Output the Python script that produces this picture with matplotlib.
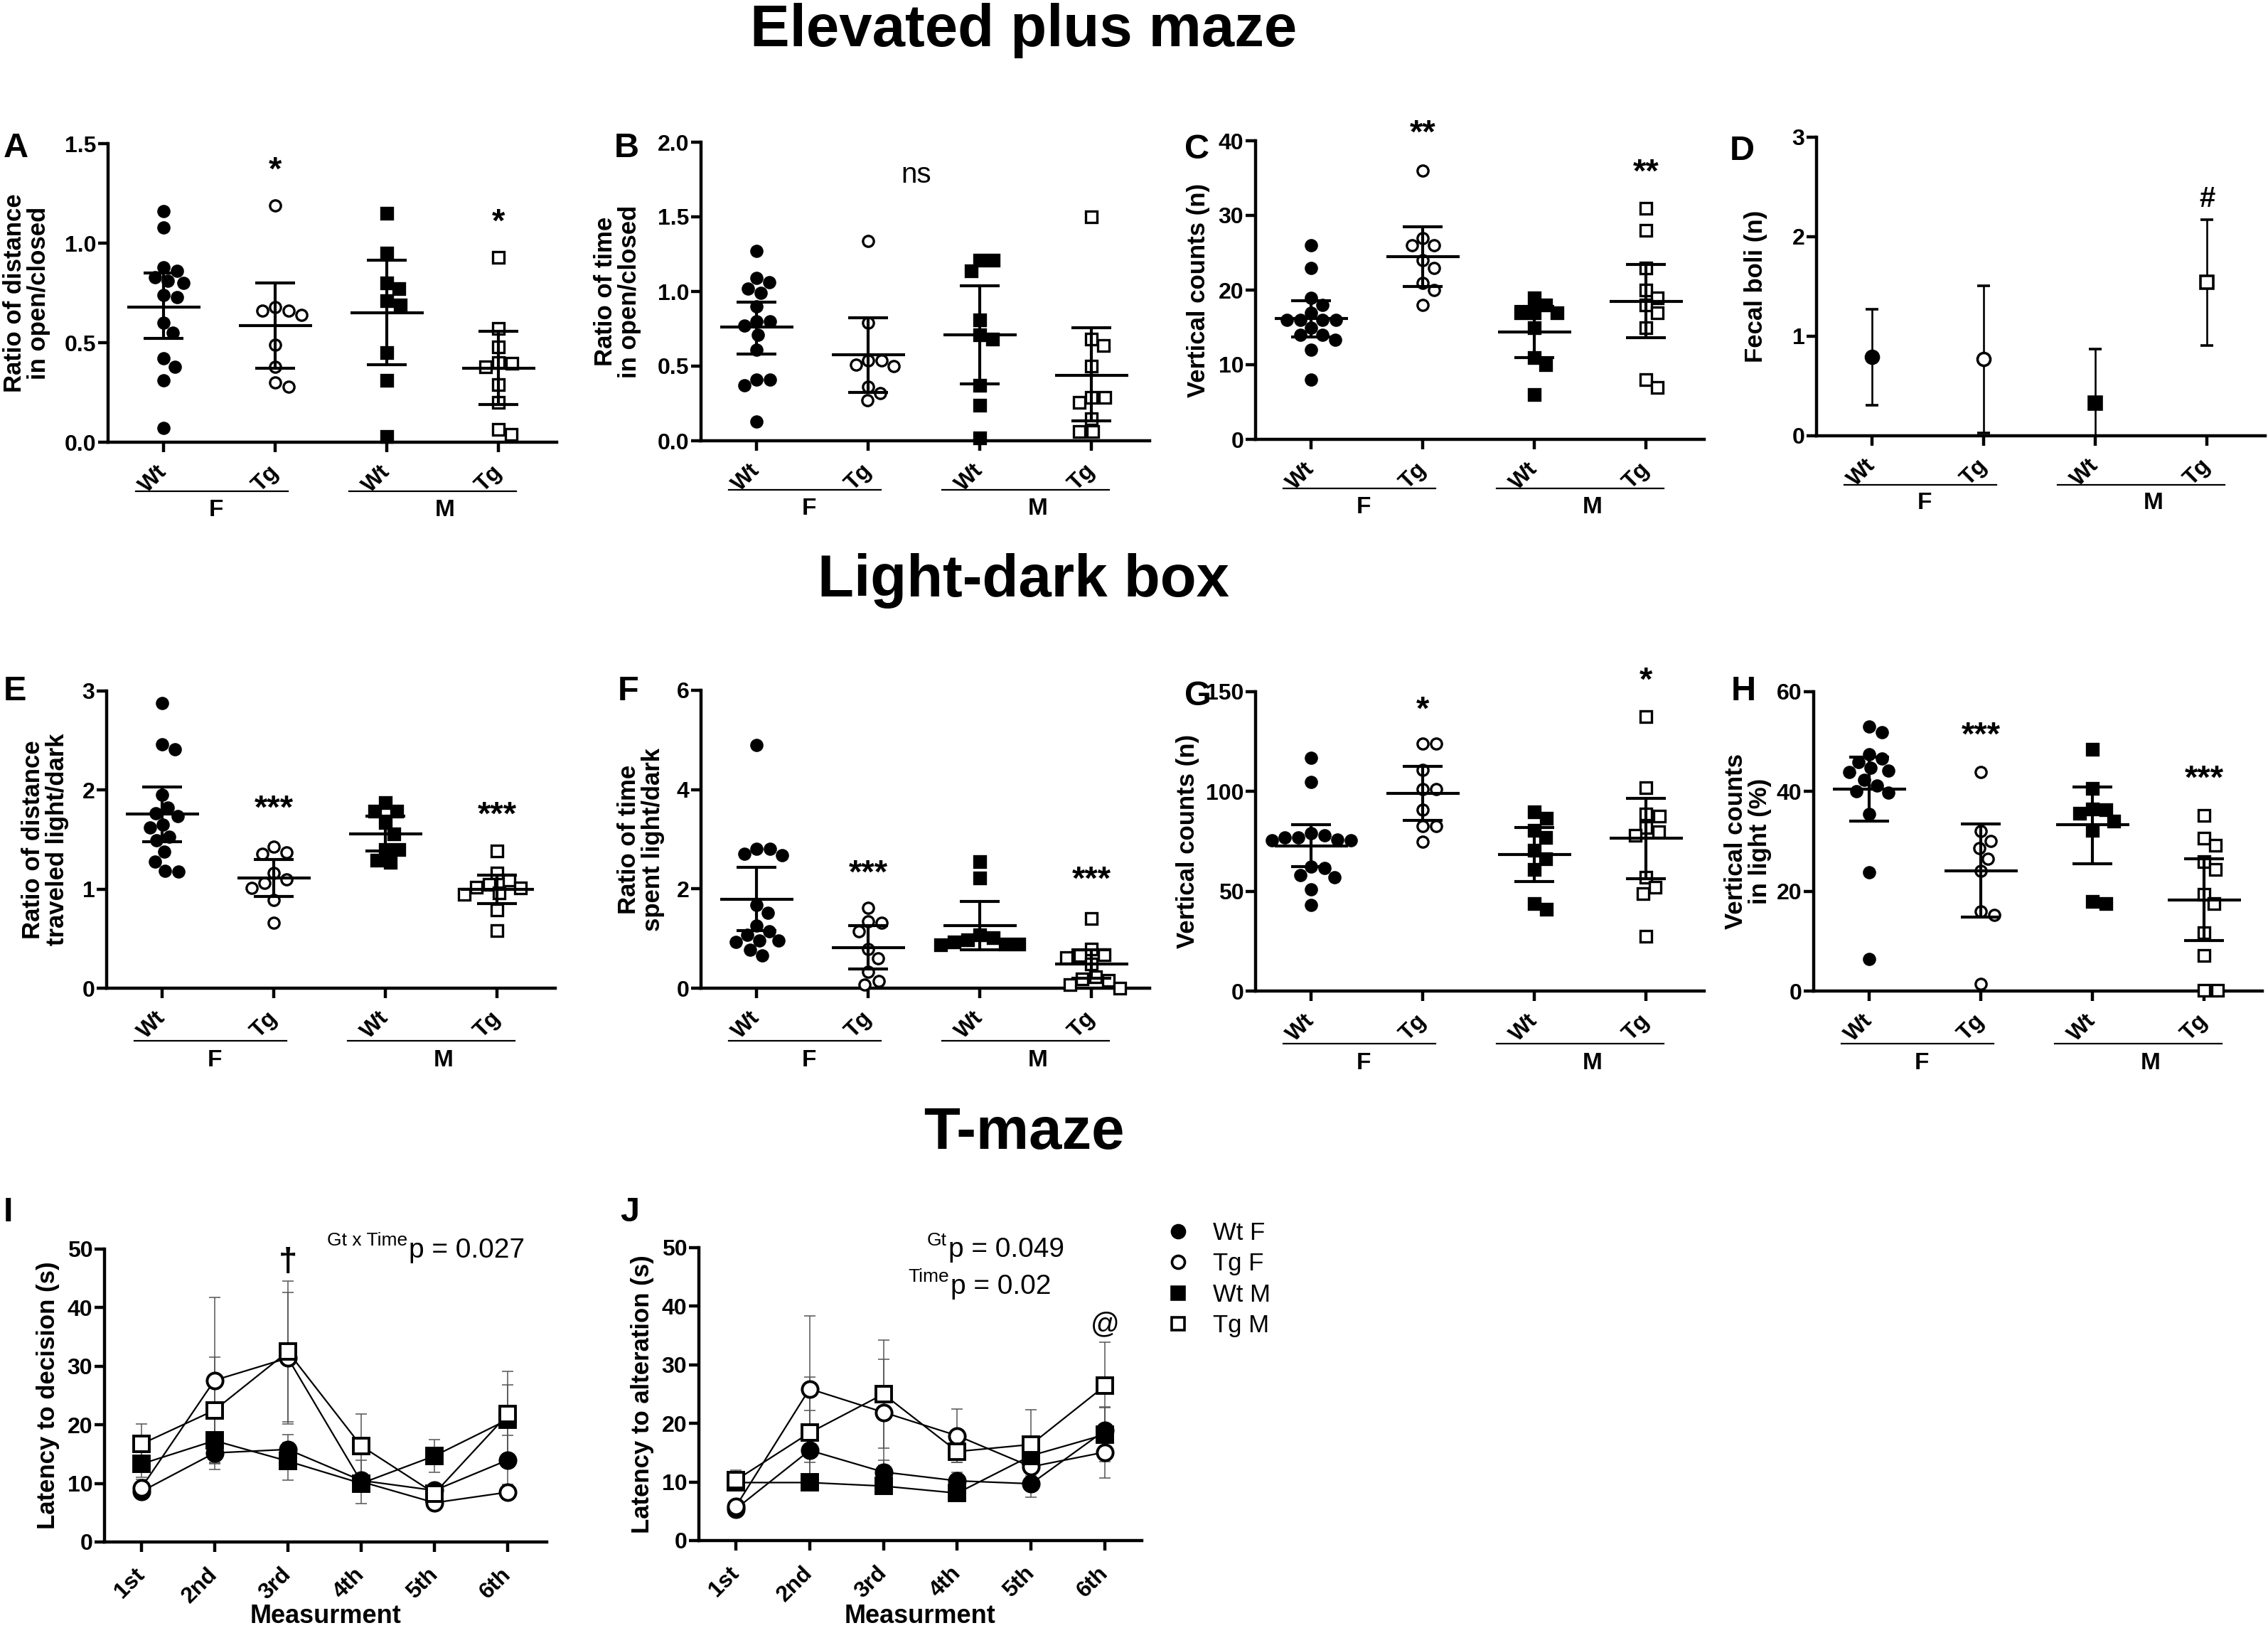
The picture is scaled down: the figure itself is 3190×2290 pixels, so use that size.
import numpy as np
import matplotlib
matplotlib.use("Agg")
import matplotlib.pyplot as plt
import matplotlib.transforms as mtransforms
from matplotlib.lines import Line2D

plt.rcParams['font.family'] = ['Liberation Sans', 'DejaVu Sans']
plt.rcParams['font.weight'] = 'bold'
plt.rcParams['axes.labelweight'] = 'bold'

# ---------------- data ----------------
groups = ['Wt', 'Tg', 'Wt', 'Tg']
times = ['1st', '2nd', '3rd', '4th', '5th', '6th']
legend_labels = ['Wt F', 'Tg F', 'Wt M', 'Tg M']

# A - ratio of distance open/closed
A_wtf = [1.16, 1.08, 0.88, 0.86, 0.83, 0.81, 0.80, 0.74, 0.73, 0.60, 0.55, 0.42, 0.38, 0.31, 0.07]
A_tgf = [1.19, 0.68, 0.66, 0.66, 0.64, 0.49, 0.38, 0.30, 0.28]
A_wtm = [1.15, 0.95, 0.80, 0.77, 0.71, 0.69, 0.45, 0.31, 0.03]
A_tgm = [0.93, 0.57, 0.48, 0.40, 0.395, 0.38, 0.29, 0.20, 0.065, 0.04]
A_mean = [0.68, 0.585, 0.65, 0.373]
A_lo = [0.52, 0.37, 0.39, 0.19]
A_hi = [0.85, 0.80, 0.915, 0.557]
A_stars = ['', '*', '', '*']
A_star_y = [0, 1.36, 0, 1.10]

# B - ratio of time open/closed
B_wtf = [1.27, 1.09, 1.06, 1.02, 0.99, 0.90, 0.80, 0.80, 0.77, 0.71, 0.61, 0.41, 0.41, 0.37, 0.13]
B_tgf = [1.34, 0.79, 0.54, 0.54, 0.51, 0.50, 0.36, 0.32, 0.27]
B_wtm = [1.21, 1.21, 1.14, 0.81, 0.71, 0.68, 0.37, 0.24, 0.02]
B_tgm = [1.50, 0.68, 0.64, 0.50, 0.29, 0.29, 0.255, 0.15, 0.06, 0.06]
B_mean = [0.76, 0.575, 0.71, 0.44]
B_lo = [0.58, 0.325, 0.38, 0.135]
B_hi = [0.93, 0.825, 1.04, 0.755]

# C - vertical counts EPM
C_wtf = [26, 23, 19, 18, 17, 16, 16, 16, 16, 15, 14, 14, 13.3, 12, 8]
C_tgf = [36, 27, 26, 26, 24, 23, 21, 20, 18]
C_wtm = [19, 18, 17, 17, 17, 15, 11, 10, 6]
C_tgm = [31, 28, 23, 20, 19, 18, 17, 15, 8, 7]
C_mean = [16.2, 24.5, 14.4, 18.5]
C_lo = [13.7, 20.5, 11.0, 13.6]
C_hi = [18.6, 28.5, 17.8, 23.4]
C_stars = ['', '**', '', '**']
C_star_y = [0, 40.9, 0, 35.6]

# D - fecal boli (mean +/- error)
D_mean = [0.79, 0.77, 0.33, 1.54]
D_err = [0.48, 0.74, 0.54, 0.63]

# E - ratio of distance light/dark
E_wtf = [2.88, 2.46, 2.41, 1.95, 1.825, 1.765, 1.735, 1.65, 1.62, 1.53, 1.49, 1.38, 1.28, 1.185, 1.18]
E_tgf = [1.43, 1.37, 1.36, 1.16, 1.10, 1.065, 1.01, 0.89, 0.66]
E_wtm = [1.87, 1.79, 1.79, 1.67, 1.56, 1.40, 1.40, 1.295, 1.27]
E_tgm = [1.386, 1.16, 1.09, 1.05, 1.02, 1.015, 0.96, 0.95, 0.79, 0.58]
E_mean = [1.757, 1.11, 1.556, 1.00]
E_lo = [1.48, 0.925, 1.386, 0.855]
E_hi = [2.03, 1.30, 1.735, 1.14]
E_stars = ['', '***', '', '***']
E_star_y = [0, 1.80, 0, 1.74]

# F - ratio of time light/dark
F_wtf = [4.90, 2.81, 2.81, 2.71, 2.68, 1.67, 1.52, 1.26, 1.15, 1.07, 0.96, 0.96, 0.93, 0.77, 0.66]
F_tgf = [1.62, 1.34, 1.315, 1.15, 0.79, 0.60, 0.33, 0.15, 0.07]
F_wtm = [2.55, 2.22, 1.07, 1.02, 0.97, 0.93, 0.89, 0.89, 0.88]
F_tgm = [1.41, 0.79, 0.68, 0.66, 0.61, 0.49, 0.23, 0.19, 0.16, 0.07, 0.0]
F_mean = [1.79, 0.81, 1.26, 0.48]
F_lo = [1.16, 0.38, 0.78, 0.20]
F_hi = [2.44, 1.26, 1.75, 0.77]
F_stars = ['', '***', '', '***']
F_star_y = [0, 2.30, 0, 2.16]

# G - vertical counts LDB
G_wtf = [116.8, 104.9, 79.0, 78.1, 76.9, 76.9, 75.8, 75.4, 75.4, 62.2, 61.7, 58.1, 57.0, 50.8, 43.0]
G_tgf = [123.9, 123.9, 110.9, 101.1, 101.1, 90.8, 82.7, 82.7, 74.9]
G_wtm = [89.9, 86.7, 80.6, 76.9, 70.4, 66.3, 60.8, 44.0, 41.0]
G_tgm = [137.7, 101.8, 88.8, 87.7, 82.0, 79.9, 78.1, 57.1, 51.9, 48.9, 27.6]
G_mean = [72.8, 99.0, 68.3, 76.5]
G_lo = [62.4, 85.4, 54.9, 56.4]
G_hi = [83.3, 112.7, 82.0, 96.7]
G_stars = ['', '*', '', '*']
G_star_y = [0, 140.4, 0, 155.0]

# H - vertical counts in light (%)
H_wtf = [53.0, 51.9, 47.5, 46.6, 45.9, 44.7, 44.2, 43.9, 42.3, 41.2, 40.1, 39.8, 35.5, 23.8, 6.4]
H_tgf = [43.9, 32.0, 30.1, 28.6, 26.5, 24.1, 15.9, 15.3, 1.4]
H_wtm = [48.5, 40.6, 36.5, 36.3, 35.7, 34.1, 32.2, 18.0, 17.6]
H_tgm = [35.2, 30.7, 29.2, 25.9, 24.4, 19.4, 17.5, 11.7, 7.1, 0.1, 0.1]
H_mean = [40.5, 24.1, 33.3, 18.3]
H_lo = [34.1, 14.8, 25.5, 10.1]
H_hi = [46.9, 33.5, 40.9, 26.5]
H_stars = ['', '***', '', '***']
H_star_y = [0, 51.0, 0, 42.3]

# I - T-maze latency to decision
I_wtf = [8.6, 15.2, 15.8, 10.5, 8.8, 14.0]
I_tgf = [9.2, 27.6, 31.4, 10.3, 6.7, 8.5]
I_wtm = [13.3, 17.3, 13.8, 10.0, 14.7, 20.9]
I_tgm = [16.7, 22.5, 32.5, 16.4, 8.3, 21.8]
I_wtf_err = [1.0, 2.8, 2.5, 1.0, 1.0, 4.2]
I_tgf_err = [1.5, 14.2, 11.2, 3.7, 1.0, 1.2]
I_wtm_err = [2.2, 3.7, 3.2, 1.2, 2.8, 5.9]
I_tgm_err = [3.5, 9.0, 12.0, 5.4, 1.0, 7.3]

# J - T-maze latency to alteration
J_wtf = [5.4, 15.4, 11.7, 10.2, 9.7, 18.8]
J_tgf = [5.8, 25.9, 21.9, 17.9, 12.6, 15.1]
J_wtm = [9.9, 9.9, 9.3, 8.1, 14.5, 18.1]
J_tgm = [10.3, 18.4, 25.0, 15.2, 16.4, 26.4]
J_wtf_err = [0.5, 6.8, 2.0, 1.5, 2.3, 4.0]
J_tgf_err = [1.0, 12.5, 9.0, 4.6, 1.5, 4.4]
J_wtm_err = [0.8, 1.2, 1.0, 0.9, 2.0, 4.6]
J_tgm_err = [1.7, 9.5, 9.2, 1.8, 5.9, 7.4]

# ---------------- figure ----------------
W, H = 3190, 2290
fig = plt.figure(figsize=(W / 100, H / 100), dpi=100)

STYLES = [('o', 'k'), ('o', 'w'), ('s', 'k'), ('s', 'w')]


def px_box(b):
    l, t, r, bt = b
    return [l / W, 1 - bt / H, (r - l) / W, (bt - t) / H]


def fxy(x, y):
    return x / W, 1 - y / H


def base_style(ax):
    ax.spines[['top', 'right']].set_visible(False)
    ax.spines[['left', 'bottom']].set_linewidth(3.2)
    ax.tick_params(axis='both', width=3.2, length=10, labelsize=23)
    ax.tick_params(axis='y', pad=2)


def swarm(ax, xc, vals, d=19.0):
    # greedy beeswarm in pixel space, returns x in data units
    vals = np.asarray(vals, dtype=float)
    pts = ax.transData.transform(np.column_stack([np.full(len(vals), xc), vals]))
    order = np.argsort(-vals, kind='stable')
    placed = []
    off = np.zeros(len(vals))
    for i in order:
        y = pts[i, 1]
        cands = [0.0]
        for px, py in placed:
            dy = abs(py - y)
            if dy < d:
                dx = np.sqrt(d * d - dy * dy)
                cands += [px + dx, px - dx]
        cands.sort(key=abs)
        for c in cands:
            if all((c - px) ** 2 + (y - py) ** 2 >= d * d - 1e-6 for px, py in placed):
                break
        placed.append((c, y))
        off[i] = c
    x0 = pts[0, 0]
    return ax.transData.inverted().transform(np.column_stack([x0 + off, pts[:, 1]]))[:, 0]


def sex_labels(ax, hpx, line_px, text_px):
    tr = mtransforms.blended_transform_factory(ax.transData, ax.transAxes)
    for (x0, x1), xc, s in zip([(-0.25, 1.11), (1.66, 3.16)], [0.47, 2.52], ['F', 'M']):
        ax.plot([x0, x1], [-line_px / hpx] * 2, transform=tr, color='k', lw=1.6, clip_on=False)
        ax.text(xc, -text_px / hpx, s, transform=tr, ha='center', va='center', fontsize=24)


def group_axes(b, yticks, ylabels, ylab, gap, row):
    ax = fig.add_axes(px_box(b))
    ax.set_xlim(-0.5, 3.52)
    ax.set_ylim(yticks[0], yticks[-1])
    base_style(ax)
    ax.set_yticks(yticks, ylabels)
    ax.set_xticks(range(4), groups, rotation=45, ha='right', va='center',
                  rotation_mode='anchor')
    ax.tick_params(axis='x', pad=17)
    ax.set_ylabel(ylab, fontsize=25, linespacing=1.05)
    ax.yaxis.set_label_coords(-gap / (b[2] - b[0]), 0.5)
    hpx = b[3] - b[1]
    if row == 1:
        sex_labels(ax, hpx, 69, 95)
    else:
        sex_labels(ax, hpx, 74, 102)
    return ax


def dot_panel(b, sets, mean, lo, hi, yticks, ylabels, ylab, gap, row, stars=None, star_y=None):
    ax = group_axes(b, yticks, ylabels, ylab, gap, row)
    for i, vals in enumerate(sets):
        m, fc = STYLES[i]
        xs = swarm(ax, i, vals)
        ax.plot(xs, vals, ls='none', marker=m, ms=11, mfc=fc, mec='k', mew=2.4,
                clip_on=False, zorder=3)
        ax.hlines(mean[i], i - 0.33, i + 0.33, color='k', lw=3.0, zorder=4)
        ax.errorbar(i, mean[i], yerr=[[mean[i] - lo[i]], [hi[i] - mean[i]]], fmt='none',
                    ecolor='k', elinewidth=3.0, capsize=20, capthick=3.0, zorder=4)
        if stars and stars[i]:
            ax.text(i, star_y[i], stars[i], ha='center', va='center', fontsize=34,
                    clip_on=False)
    return ax


# ---- row 1: elevated plus maze ----
dot_panel((152, 202, 783, 622), [A_wtf, A_tgf, A_wtm, A_tgm], A_mean, A_lo, A_hi,
          [0, 0.5, 1.0, 1.5], ['0.0', '0.5', '1.0', '1.5'],
          'Ratio of distance\nin open/closed', 81, 1, A_stars, A_star_y)
axB = dot_panel((986, 200, 1617, 620), [B_wtf, B_tgf, B_wtm, B_tgm], B_mean, B_lo, B_hi,
                [0, 0.5, 1.0, 1.5, 2.0], ['0.0', '0.5', '1.0', '1.5', '2.0'],
                'Ratio of time\nin open/closed', 84, 1)
axB.text(1.43, 1.78, 'ns', ha='center', va='center', fontsize=29, fontweight='normal')
dot_panel((1766, 198, 2397, 618), [C_wtf, C_tgf, C_wtm, C_tgm], C_mean, C_lo, C_hi,
          [0, 10, 20, 30, 40], ['0', '10', '20', '30', '40'],
          'Vertical counts (n)', 64, 1, C_stars, C_star_y)

bD = (2555, 193, 3186, 613)
axD = group_axes(bD, [0, 1, 2, 3], ['0', '1', '2', '3'], 'Fecal boli (n)', 69, 1)
for i in range(4):
    m, fc = STYLES[i]
    axD.errorbar(i, D_mean[i], yerr=D_err[i], fmt=m, ms=13, mfc=fc, mec='k', mew=2.6,
                 ecolor='k', elinewidth=1.9, capsize=6.5, capthick=1.9, zorder=3)
axD.text(3, 2.38, '#', ha='center', va='center', fontsize=29)

# ---- row 2: light-dark box ----
dot_panel((150, 972, 781, 1390), [E_wtf, E_tgf, E_wtm, E_tgm], E_mean, E_lo, E_hi,
          [0, 1, 2, 3], ['0', '1', '2', '3'],
          'Ratio of distance\ntraveled light/dark', 53, 2, E_stars, E_star_y)
dot_panel((986, 971, 1617, 1390), [F_wtf, F_tgf, F_wtm, F_tgm], F_mean, F_lo, F_hi,
          [0, 2, 4, 6], ['0', '2', '4', '6'],
          'Ratio of time\nspent light/dark', 51, 2, F_stars, F_star_y)
dot_panel((1766, 973, 2397, 1394), [G_wtf, G_tgf, G_wtm, G_tgm], G_mean, G_lo, G_hi,
          [0, 50, 100, 150], ['0', '50', '100', '150'],
          'Vertical counts (n)', 79, 2, G_stars, G_star_y)
dot_panel((2551, 973, 3182, 1394), [H_wtf, H_tgf, H_wtm, H_tgm], H_mean, H_lo, H_hi,
          [0, 20, 40, 60], ['0', '20', '40', '60'],
          'Vertical counts\nin light (%)', 59, 2, H_stars, H_star_y)


# ---- row 3: T-maze ----
def time_panel(b, series, errs, ylab, gap, xmax):
    ax = fig.add_axes(px_box(b))
    ax.set_xlim(-0.5, xmax)
    ax.set_ylim(0, 50)
    base_style(ax)
    ax.set_yticks(range(0, 51, 10), [str(v) for v in range(0, 51, 10)])
    ax.set_xticks(range(6), times, rotation=45, ha='right', va='center',
                  rotation_mode='anchor')
    ax.tick_params(axis='x', pad=20)
    x = np.arange(6)
    for i, (vals, err) in enumerate(zip(series, errs)):
        m, fc = STYLES[i]
        ax.errorbar(x, vals, yerr=err, fmt='none', ecolor='#555555', elinewidth=1.1,
                    capsize=6, capthick=1.1, zorder=2)
        ax.plot(x, vals, color='k', lw=1.6, marker=m, ms=16, mfc=fc, mec='k', mew=2.8,
                zorder=3 + i * 0.1, clip_on=False)
    ax.set_ylabel(ylab, fontsize=25)
    ax.yaxis.set_label_coords(-gap / (b[2] - b[0]), 0.5)
    ax.set_xlabel('Measurment', fontsize=26)
    ax.xaxis.set_label_coords(0.5, -(2256 - b[3]) / (b[3] - b[1]))
    ax.xaxis.label.set_va('top')
    return ax


axI = time_panel((147, 1757, 769, 2169), [I_wtf, I_tgf, I_wtm, I_tgm],
                 [I_wtf_err, I_tgf_err, I_wtm_err, I_tgm_err],
                 'Latency to decision (s)', 63, 5.53)
axI.text(2, 47.7, '\u2020', ha='center', va='center', fontsize=34)
axJ = time_panel((983, 1755, 1606, 2167), [J_wtf, J_tgf, J_wtm, J_tgm],
                 [J_wtf_err, J_tgf_err, J_wtm_err, J_tgm_err],
                 'Latency to alteration (s)', 63, 5.5)
axJ.text(5, 36.9, '@', ha='center', va='center', fontsize=29, fontweight='normal',
         clip_on=False)


# p-value annotations (superscript prefix + main text)
def p_text(xsplit, ysup, ymain, sup, main):
    fig.text(*fxy(xsplit, ysup), sup, ha='right', va='baseline', fontsize=19,
             fontweight='normal')
    fig.text(*fxy(xsplit + 2, ymain), main, ha='left', va='baseline', fontsize=28,
             fontweight='normal')


p_text(573, 1752, 1769, 'Gt x Time', 'p = 0.027')
p_text(1332, 1752, 1768, 'Gt', 'p = 0.049')
p_text(1335, 1803, 1820, 'Time', 'p = 0.02')

# legend
handles = [Line2D([], [], ls='none', marker=m, ms=13, mfc=fc, mec='k', mew=2.6)
           for m, fc in STYLES]
leg = fig.legend(handles, legend_labels, loc='upper left', bbox_to_anchor=fxy(1640, 1718),
                 frameon=False, borderpad=0, borderaxespad=0, handlelength=1.0,
                 handletextpad=0.9, labelspacing=0.3,
                 prop={'size': 25, 'weight': 'normal'})

# section titles
for y, s in [(65, 'Elevated plus maze'), (839, 'Light-dark box'), (1616, 'T-maze')]:
    fig.text(*fxy(1440, y), s, ha='center', va='baseline', fontsize=60)

# panel letters
for x, y, s in [(5, 186, 'A'), (864, 186, 'B'), (1666, 188, 'C'), (2433, 190, 'D'),
                (5, 950, 'E'), (869, 950, 'F'), (1666, 957, 'G'), (2435, 950, 'H'),
                (5, 1683, 'I'), (872, 1683, 'J')]:
    fig.text(*fxy(x, y), s, ha='left', va='top', fontsize=35)

fig.savefig('out.png', dpi=100, facecolor='white')
